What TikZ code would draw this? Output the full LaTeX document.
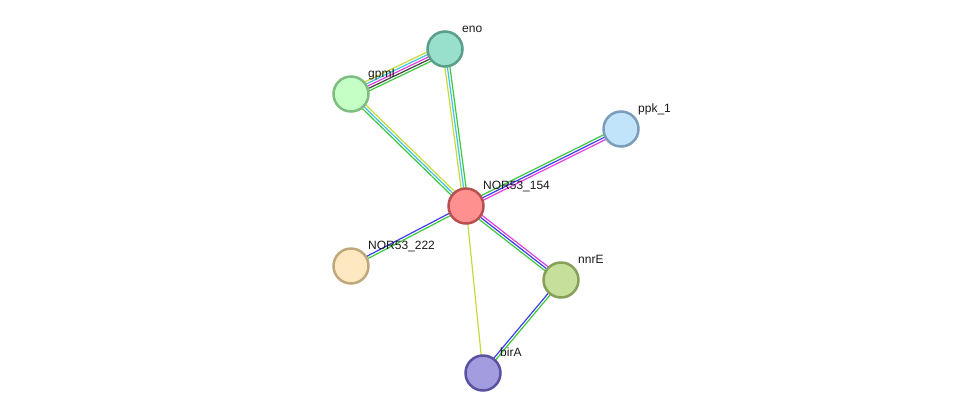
\documentclass[tikz,border=0pt]{standalone}
\usepackage{fontspec}
\setmainfont{Liberation Sans}
\usetikzlibrary{calc,positioning}
\definecolor{evtext}{HTML}{C8D838}
\definecolor{evdb}{HTML}{3EC4E0}
\definecolor{evexp}{HTML}{E040E0}
\definecolor{evcoexp}{HTML}{404040}
\definecolor{evnbr}{HTML}{3CC83C}
\definecolor{evfus}{HTML}{3C3CF0}
% evidence line offset sideways from the a--b axis
\newcommand{\evidenceline}[4]{%
  \draw[evline,#4] ($(#1)!#3pt!90:(#2)$) -- ($(#2)!#3pt!-90:(#1)$);}

\begin{document}
\begin{tikzpicture}[x=1pt,y=-1pt,
  evline/.style={line width=1.2pt},
  protein/.style={circle,line width=2.5pt,minimum size=35pt,inner sep=0pt},
  protlabel/.style={anchor=base west,inner sep=0pt,text=black!90,
    font=\fontsize{12}{14}\selectfont}
]
  \useasboundingbox (0,0) rectangle (976,418);
  \coordinate (eno) at (445,49);
  \coordinate (gpmI) at (351,94);
  \coordinate (ppk1) at (621,129);
  \coordinate (nor154) at (466,206);
  \coordinate (nor222) at (351,266);
  \coordinate (nnrE) at (561,280);
  \coordinate (birA) at (483,373);

  % edges
  \evidenceline{gpmI}{eno}{5}{evtext}
  \evidenceline{gpmI}{eno}{2.5}{evdb}
  \evidenceline{gpmI}{eno}{0}{evexp}
  \evidenceline{gpmI}{eno}{-2.5}{evcoexp}
  \evidenceline{gpmI}{eno}{-5}{evnbr}
  \evidenceline{eno}{nor154}{2.5}{evnbr}
  \evidenceline{eno}{nor154}{0}{evdb}
  \evidenceline{eno}{nor154}{-2.5}{evtext}
  \evidenceline{gpmI}{nor154}{2.5}{evtext}
  \evidenceline{gpmI}{nor154}{0}{evdb}
  \evidenceline{gpmI}{nor154}{-2.5}{evnbr}
  \evidenceline{nor154}{ppk1}{2.5}{evnbr}
  \evidenceline{nor154}{ppk1}{0}{evfus}
  \evidenceline{nor154}{ppk1}{-2.5}{evexp}
  \evidenceline{nor154}{nnrE}{2.5}{evexp}
  \evidenceline{nor154}{nnrE}{0}{evfus}
  \evidenceline{nor154}{nnrE}{-2.5}{evnbr}
  \evidenceline{nor154}{nor222}{1.25}{evnbr}
  \evidenceline{nor154}{nor222}{-1.25}{evfus}
  \evidenceline{nnrE}{birA}{1.25}{evnbr}
  \evidenceline{nnrE}{birA}{-1.25}{evfus}
  \evidenceline{nor154}{birA}{0}{evtext}

  % proteins
  \node[protein,fill={rgb,255:red,153;green,224;blue,204},
    draw={rgb,255:red,90;green,158;blue,138}] (enonode) at (eno) {};
  \node[protein,fill={rgb,255:red,198;green,255;blue,198},
    draw={rgb,255:red,125;green,190;blue,128}] (gpmInode) at (gpmI) {};
  \node[protein,fill={rgb,255:red,193;green,228;blue,251},
    draw={rgb,255:red,124;green,157;blue,186}] (ppk1node) at (ppk1) {};
  \node[protein,fill={rgb,255:red,255;green,144;blue,144},
    draw={rgb,255:red,184;green,80;blue,80}] (nor154node) at (nor154) {};
  \node[protein,fill={rgb,255:red,254;green,232;blue,194},
    draw={rgb,255:red,191;green,169;blue,122}] (nor222node) at (nor222) {};
  \node[protein,fill={rgb,255:red,198;green,223;blue,154},
    draw={rgb,255:red,134;green,160;blue,90}] (nnrEnode) at (nnrE) {};
  \node[protein,fill={rgb,255:red,163;green,156;blue,223},
    draw={rgb,255:red,90;green,82;blue,160}] (birAnode) at (birA) {};

  % labels
  \node[protlabel] (enolabel) at ($(eno)+(17,-17)$) {eno};
  \node[protlabel] (gpmIlabel) at ($(gpmI)+(17,-17)$) {gpmI};
  \node[protlabel] (ppk1label) at ($(ppk1)+(17,-17)$) {ppk\_1};
  \node[protlabel] (nor154label) at ($(nor154)+(17,-17)$) {NOR53\_154};
  \node[protlabel] (nor222label) at ($(nor222)+(17,-17)$) {NOR53\_222};
  \node[protlabel] (nnrElabel) at ($(nnrE)+(17,-17)$) {nnrE};
  \node[protlabel] (birAlabel) at ($(birA)+(17,-17)$) {birA};
\end{tikzpicture}
\end{document}
